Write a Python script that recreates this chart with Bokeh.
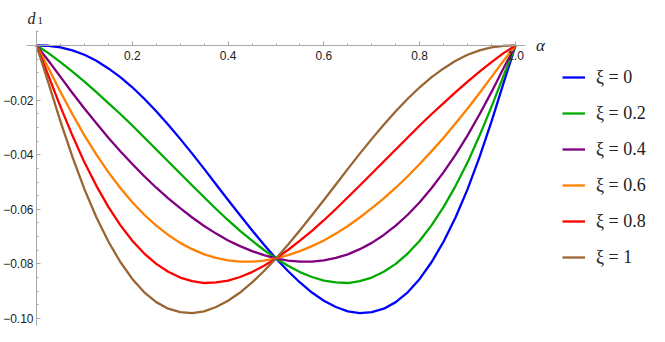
from bokeh.plotting import figure
from bokeh.models import (LinearAxis, FixedTicker, CustomJSTickFormatter,
                          Range1d, Label)
from bokeh.embed import file_html
from bokeh.resources import INLINE

# ---- data ----
alpha = [0.0, 0.025, 0.05, 0.075, 0.1, 0.125, 0.15, 0.175, 0.2, 0.225,
         0.25, 0.275, 0.3, 0.325, 0.35, 0.375, 0.4, 0.425, 0.45, 0.475,
         0.5, 0.525, 0.55, 0.575, 0.6, 0.625, 0.65, 0.675, 0.7, 0.725,
         0.75, 0.775, 0.8, 0.825, 0.85, 0.875, 0.9, 0.925, 0.95, 0.975, 1.0]

d_xi_0 = [0.0, -0.0001, -0.0007, -0.0018, -0.0034, -0.0056, -0.0084, -0.0116,
          -0.0153, -0.0195, -0.0241, -0.0290, -0.0342, -0.0396, -0.0452,
          -0.0509, -0.0566, -0.0622, -0.0677, -0.0730, -0.0780, -0.0826,
          -0.0868, -0.0905, -0.0935, -0.0958, -0.0974, -0.0980, -0.0977,
          -0.0964, -0.0940, -0.0904, -0.0855, -0.0793, -0.0718, -0.0629,
          -0.0526, -0.0408, -0.0278, -0.0138, 0.0]

d_xi_02 = [0.0, -0.0028, -0.0061, -0.0096, -0.0132, -0.0171, -0.0211, -0.0251,
           -0.0293, -0.0337, -0.0381, -0.0425, -0.0469, -0.0513, -0.0556,
           -0.0599, -0.0640, -0.0679, -0.0715, -0.0749, -0.0780, -0.0807,
           -0.0830, -0.0848, -0.0861, -0.0868, -0.0870, -0.0863, -0.0850,
           -0.0829, -0.0800, -0.0762, -0.0715, -0.0658, -0.0591, -0.0514,
           -0.0428, -0.0330, -0.0224, -0.0111, 0.0]

d_xi_04 = [0.0, -0.0056, -0.0115, -0.0174, -0.0231, -0.0285, -0.0338, -0.0387,
           -0.0434, -0.0479, -0.0521, -0.0560, -0.0596, -0.0630, -0.0661,
           -0.0689, -0.0714, -0.0735, -0.0753, -0.0768, -0.0780, -0.0788,
           -0.0792, -0.0792, -0.0787, -0.0778, -0.0765, -0.0746, -0.0723,
           -0.0694, -0.0660, -0.0620, -0.0574, -0.0522, -0.0464, -0.0400,
           -0.0329, -0.0252, -0.0170, -0.0083, 0.0]

d_xi_06 = [0.0, -0.0083, -0.0170, -0.0252, -0.0329, -0.0400, -0.0464, -0.0522,
           -0.0574, -0.0620, -0.0660, -0.0694, -0.0723, -0.0746, -0.0765,
           -0.0778, -0.0787, -0.0792, -0.0792, -0.0788, -0.0780, -0.0768,
           -0.0753, -0.0735, -0.0714, -0.0689, -0.0661, -0.0630, -0.0596,
           -0.0560, -0.0521, -0.0479, -0.0434, -0.0387, -0.0338, -0.0285,
           -0.0231, -0.0174, -0.0115, -0.0056, 0.0]

d_xi_08 = [0.0, -0.0111, -0.0224, -0.0330, -0.0428, -0.0514, -0.0591, -0.0658,
           -0.0715, -0.0762, -0.0800, -0.0829, -0.0850, -0.0863, -0.0870,
           -0.0868, -0.0861, -0.0848, -0.0830, -0.0807, -0.0780, -0.0749,
           -0.0715, -0.0679, -0.0640, -0.0599, -0.0556, -0.0513, -0.0469,
           -0.0425, -0.0381, -0.0337, -0.0293, -0.0251, -0.0211, -0.0171,
           -0.0132, -0.0096, -0.0061, -0.0028, 0.0]

d_xi_1 = [0.0, -0.0138, -0.0278, -0.0408, -0.0526, -0.0629, -0.0718, -0.0793,
          -0.0855, -0.0904, -0.0940, -0.0964, -0.0977, -0.0980, -0.0974,
          -0.0958, -0.0935, -0.0905, -0.0868, -0.0826, -0.0780, -0.0730,
          -0.0677, -0.0622, -0.0566, -0.0509, -0.0452, -0.0396, -0.0342,
          -0.0290, -0.0241, -0.0195, -0.0153, -0.0116, -0.0084, -0.0056,
          -0.0034, -0.0018, -0.0007, -0.0001, 0.0]

series = [d_xi_0, d_xi_02, d_xi_04, d_xi_06, d_xi_08, d_xi_1]
series_labels = ["ξ = 0", "ξ = 0.2", "ξ = 0.4", "ξ = 0.6", "ξ = 0.8", "ξ = 1"]
series_colors = ["#0000ff", "#00aa00", "#800080", "#ff8000", "#ff0000", "#996633"]

x_ticks = [0.2, 0.4, 0.6, 0.8, 1.0]
x_minor = [0.05, 0.1, 0.15, 0.25, 0.3, 0.35, 0.45, 0.5, 0.55,
           0.65, 0.7, 0.75, 0.85, 0.9, 0.95]
y_ticks = [-0.02, -0.04, -0.06, -0.08, -0.10]
y_minor = [0.005, -0.005, -0.01, -0.015, -0.025, -0.03, -0.035, -0.045,
           -0.05, -0.055, -0.065, -0.07, -0.075, -0.085, -0.09, -0.095]

# ---- figure (frame covers the whole canvas; axes are bounded) ----
p = figure(width=649, height=326, output_backend="svg", toolbar_location=None,
           x_range=Range1d(-0.07516, 1.27975), y_range=Range1d(-0.10293, 0.016484),
           x_axis_location=None, y_axis_location=None,
           min_border_left=0, min_border_right=0,
           min_border_top=0, min_border_bottom=0)
p.outline_line_color = None
p.grid.visible = False
p.background_fill_color = "white"

for ys, lab, col in zip(series, series_labels, series_colors):
    p.line(alpha, ys, line_color=col, line_width=2.3, line_join="round",
           legend_label=lab)

axis_col = "#a8a8a8"
label_col = "#222222"

xaxis = LinearAxis(fixed_location=0, bounds=(-0.02, 1.02),
                   ticker=FixedTicker(ticks=x_ticks, minor_ticks=x_minor),
                   formatter=CustomJSTickFormatter(code="return tick.toFixed(1);"))
yaxis = LinearAxis(fixed_location=0, bounds=(-0.1025, 0.0055),
                   ticker=FixedTicker(ticks=y_ticks, minor_ticks=y_minor),
                   formatter=CustomJSTickFormatter(
                       code="return (tick < 0 ? '\\u2212' : '') + Math.abs(tick).toFixed(2);"))
for ax in (xaxis, yaxis):
    ax.axis_line_color = axis_col
    ax.axis_line_width = 1
    ax.major_tick_line_color = axis_col
    ax.minor_tick_line_color = axis_col
    ax.major_tick_in = 4
    ax.major_tick_out = 0
    ax.minor_tick_in = 2
    ax.minor_tick_out = 0
    ax.major_label_text_font = "Liberation Sans"
    ax.major_label_text_font_size = "12px"
    ax.major_label_text_color = label_col
xaxis.major_label_standoff = 5
yaxis.major_label_standoff = 3
p.add_layout(xaxis, "below")
p.add_layout(yaxis, "left")

# axis labels
p.add_layout(Label(x=1.0522, y=0, text="α", text_font="Liberation Serif",
                   text_font_style="italic", text_font_size="17px",
                   text_align="center", text_baseline="middle",
                   text_color="#222222"))
p.add_layout(Label(x=-0.0188, y=0.0098, text="d", text_font="Liberation Serif",
                   text_font_style="italic", text_font_size="16px",
                   text_align="left", text_baseline="alphabetic",
                   text_color="#222222"))
p.add_layout(Label(x=0.0021, y=0.0092, text="1", text_font="Liberation Serif",
                   text_font_size="11px", text_align="left",
                   text_baseline="alphabetic", text_color="#222222"))

lg = p.legend[0]
lg.location = (562, 58)
lg.border_line_color = None
lg.background_fill_alpha = 0
lg.padding = 0
lg.margin = 0
lg.glyph_width = 23
lg.glyph_height = 22
lg.label_height = 22
lg.spacing = 14
lg.label_standoff = 11
lg.label_text_font = "Liberation Serif"
lg.label_text_font_size = "18px"
lg.label_text_color = "#222222"

open("out.html", "w", encoding="utf-8").write(file_html(p, INLINE))
